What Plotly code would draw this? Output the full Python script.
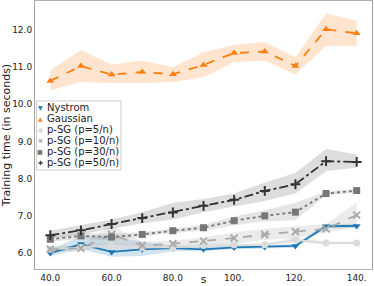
import plotly.graph_objects as go

s = [40, 50, 60, 70, 80, 90, 100, 110, 120, 130, 140]

nystrom = [6.00, 6.24, 6.03, 6.10, 6.13, 6.10, 6.15, 6.16, 6.19, 6.72, 6.73]
nystrom_lo = [5.92, 6.10, 5.90, 5.92, 6.05, 6.05, 6.10, 6.12, 6.14, 6.66, 6.67]
nystrom_hi = [6.10, 6.45, 6.45, 6.30, 6.20, 6.18, 6.20, 6.20, 6.24, 6.78, 6.79]

gaussian = [10.63, 11.03, 10.80, 10.87, 10.81, 11.06, 11.38, 11.42, 11.03, 12.02, 11.91]
gaussian_lo = [10.37, 10.60, 10.57, 10.57, 10.60, 10.73, 11.14, 11.17, 10.80, 11.57, 11.57]
gaussian_hi = [10.92, 11.46, 11.07, 11.18, 11.00, 11.40, 11.60, 11.68, 11.27, 12.45, 12.25]

p5 = [6.10, 6.15, 6.20, 6.15, 6.15, 6.20, 6.22, 6.22, 6.35, 6.27, 6.27]
p5_lo = [6.05, 6.10, 6.10, 6.08, 6.10, 6.15, 6.18, 6.18, 6.28, 6.23, 6.23]
p5_hi = [6.15, 6.20, 6.30, 6.22, 6.20, 6.25, 6.26, 6.26, 6.42, 6.31, 6.31]

p10 = [6.10, 6.13, 6.50, 6.20, 6.25, 6.32, 6.40, 6.50, 6.57, 6.65, 7.02]
p10_lo = [6.02, 6.05, 6.22, 6.12, 6.18, 6.22, 6.25, 6.35, 6.40, 6.55, 6.70]
p10_hi = [6.18, 6.22, 6.75, 6.30, 6.32, 6.42, 6.55, 6.65, 6.72, 6.78, 7.35]

p30 = [6.37, 6.46, 6.43, 6.50, 6.60, 6.68, 6.87, 7.00, 7.10, 7.60, 7.68]
p30_lo = [6.30, 6.38, 6.35, 6.44, 6.54, 6.60, 6.75, 6.85, 6.88, 7.55, 7.63]
p30_hi = [6.44, 6.54, 6.51, 6.56, 6.66, 6.76, 6.98, 7.15, 7.35, 7.65, 7.73]

p50 = [6.48, 6.61, 6.78, 6.94, 7.09, 7.27, 7.43, 7.67, 7.85, 8.47, 8.45]
p50_lo = [6.40, 6.50, 6.65, 6.80, 6.90, 7.10, 7.25, 7.40, 7.60, 8.20, 8.30]
p50_hi = [6.60, 6.75, 6.90, 7.10, 7.35, 7.45, 7.60, 7.90, 8.15, 8.80, 8.65]

names = ["Nystrom", "Gaussian", "p-SG (p=5/n)", "p-SG (p=10/n)", "p-SG (p=30/n)", "p-SG (p=50/n)"]
means = [nystrom, gaussian, p5, p10, p30, p50]
los = [nystrom_lo, gaussian_lo, p5_lo, p10_lo, p30_lo, p50_lo]
his = [nystrom_hi, gaussian_hi, p5_hi, p10_hi, p30_hi, p50_hi]
colors = ["#1f77b4", "#ff7f0e", "#dcdcdc", "#aaaaaa", "#777777", "#333333"]
fills = ["rgba(31,119,180,0.2)", "rgba(255,127,14,0.2)", "rgba(200,200,200,0.25)",
         "rgba(190,190,190,0.3)", "rgba(150,150,150,0.25)", "rgba(120,120,120,0.25)"]
symbols = ["triangle-down", "triangle-up", "circle", "x-thin", "square", "cross-thin"]
glyphs = ["\u25BC", "\u25B2", "\u25CF", "\u2716", "\u25A0", "\u271A"]
dashes = ["solid", "dash", "solid", "dash", "dot", "dashdot"]

fig = go.Figure()
for lo, hi, fc in zip(los, his, fills):
    fig.add_trace(go.Scatter(x=s, y=hi, mode="lines", line=dict(width=0), showlegend=False, hoverinfo="skip"))
    fig.add_trace(go.Scatter(x=s, y=lo, mode="lines", line=dict(width=0), fill="tonexty",
                             fillcolor=fc, showlegend=False, hoverinfo="skip"))

for name, m, c, sym, d in zip(names, means, colors, symbols, dashes):
    mk = dict(symbol=sym, size=7, color=c, line=dict(color=c, width=2 if "thin" in sym else 0))
    fig.add_trace(go.Scatter(x=s, y=m, mode="lines+markers", name=name, showlegend=False,
                             line=dict(color=c, width=1.8, dash=d), marker=mk))

# custom compact legend (pixel -> paper conversion for plot area x:35..372, y:1..269)
def px(xp):
    return (xp - 35) / 337.0

def py(yp):
    return (269 - yp) / 268.0

fig.add_shape(type="rect", xref="paper", yref="paper", x0=px(36.5), x1=px(121), y0=py(170), y1=py(101),
              line=dict(color="#cccccc", width=1), fillcolor="rgba(255,255,255,0.85)", layer="above")
rows = [107.5, 118.5, 129.5, 140.5, 151.5, 162.5]
for name, c, g, yy in zip(names, colors, glyphs, rows):
    fig.add_annotation(xref="paper", yref="paper", x=px(40), y=py(yy), text=g, showarrow=False,
                       font=dict(size=6, color=c), xanchor="center", yanchor="middle")
    fig.add_annotation(xref="paper", yref="paper", x=px(44.5), y=py(yy), text=name, showarrow=False,
                       font=dict(size=10, color="#222222"), xanchor="left", yanchor="middle")

fig.update_layout(
    width=374, height=286,
    margin=dict(l=35, r=2, t=1, b=17),
    paper_bgcolor="white", plot_bgcolor="white",
    font=dict(family="DejaVu Sans", size=9, color="#222222"),
    showlegend=False,
    xaxis=dict(range=[35, 145], tickvals=[40, 60, 80, 100, 120, 140],
               ticktext=["40.0", "60.0", "80.0", "100.", "120.", "140."],
               showgrid=False, zeroline=False, showline=True, mirror=True, automargin=False,
               linecolor="#b0b0b0", linewidth=1, ticks="",
               title=dict(text="s", font=dict(size=11), standoff=4)),
    yaxis=dict(range=[5.57, 12.78], tickvals=[6, 7, 8, 9, 10, 11, 12],
               ticktext=["6.0", "7.0", "8.0", "9.0", "10.0", "11.0", "12.0"],
               showgrid=False, zeroline=False, showline=True, mirror=True, automargin=False,
               linecolor="#a0a0a0", linewidth=1, ticks="",
               title=dict(text="Training time (in seconds)", font=dict(size=11), standoff=2)),
)

fig.write_html("out.html", config={"displayModeBar": False},
               post_script="document.body.style.margin='0';document.body.style.padding='0';")
